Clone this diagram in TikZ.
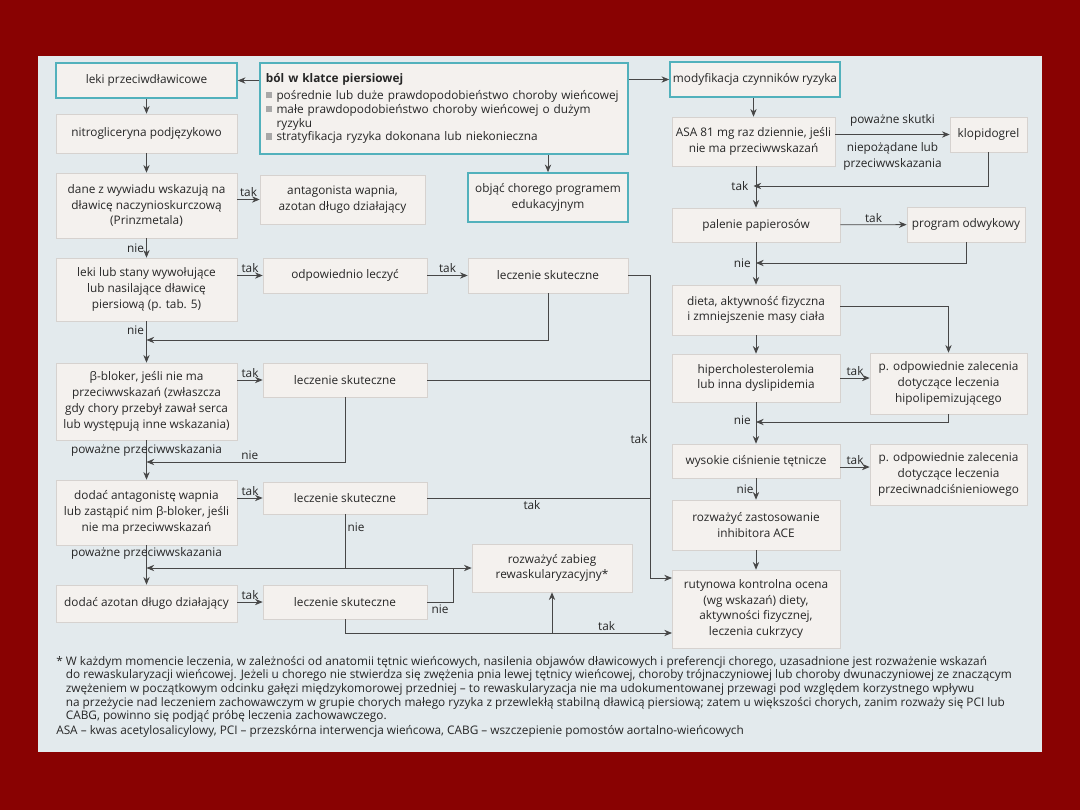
\documentclass[tikz,border=0pt]{standalone}
\usepackage{fontspec}
\setmainfont{Open Sans}
\usepackage{xcolor}
\usepackage{tikz}
\usetikzlibrary{arrows.meta,positioning,calc}
\definecolor{slide}{HTML}{890202}
\definecolor{panel}{HTML}{E3EAED}
\definecolor{boxfill}{HTML}{F4F1EE}
\definecolor{boxline}{HTML}{D6D2CF}
\definecolor{teal1}{HTML}{52B1BC}
\definecolor{ink}{HTML}{262626}
\definecolor{linec}{HTML}{474747}
\definecolor{bullet}{HTML}{A8A8A8}
\newcommand{\sq}{\textcolor{bullet}{\rule[0.2ex]{4.5pt}{4.5pt}}\hspace{3pt}}

\begin{document}
\begin{tikzpicture}[x=0.025cm,y=-0.025cm,
    txt/.style={font=\fontsize{8.4}{11.2}\selectfont,text=ink},
    box/.style={txt,draw=boxline,fill=boxfill,align=center,inner sep=2pt,line width=0.4pt},
    keybox/.style={box,draw=teal1,line width=1.1pt},
    lbl/.style={txt,inner sep=1.5pt},
    link/.style={linec,line width=0.6pt},
    arr/.style={link,-{Stealth[length=5.5pt,width=4.5pt]}}]
  \fill[slide] (0,0) rectangle (1080,810);
  \fill[panel] (38,56) rectangle (1042,752);

  \node[keybox,minimum width=4.525cm,minimum height=0.875cm] (lekiP) at (146.5,80.5) {leki przeciwdławicowe};
  \node[keybox,minimum width=9.2cm,minimum height=2.275cm,align=left,text width=8.9cm,inner xsep=0.15cm,
        font=\fontsize{8.4}{9.8}\selectfont] (bol) at (444,108.5)
       {\textbf{ból w klatce piersiowej}\\[2.5pt]
        \sq pośrednie lub duże prawdopodobieństwo choroby wieńcowej\\
        \sq małe prawdopodobieństwo choroby wieńcowej o dużym\\
        \hphantom{\sq}ryzyku\\
        \sq stratyfikacja ryzyka dokonana lub niekonieczna};
  \node[keybox,minimum width=4.25cm,minimum height=0.875cm] (modyf) at (755,79.5) {modyfikacja czynników ryzyka};
  \node[box,minimum width=4.525cm,minimum height=0.975cm] (nitro) at (146.5,133.5) {nitrogliceryna podjęzykowo};
  \node[box,minimum width=4.525cm,minimum height=1.625cm] (dane) at (146.5,205.5) {dane z wywiadu wskazują na\\dławicę naczynioskurczową\\(Prinzmetala)};
  \node[box,minimum width=4.125cm,minimum height=1.225cm] (antag) at (342.5,199.5) {antagonista wapnia,\\azotan długo działający};
  \node[keybox,minimum width=4cm,minimum height=1.225cm] (objac) at (548,197.5) {objąć chorego programem\\edukacyjnym};
  \node[box,minimum width=4.075cm,minimum height=1.225cm] (asa) at (753.5,141.5) {ASA 81 mg raz dziennie, jeśli\\nie ma przeciwwskazań};
  \node[box,minimum width=1.925cm,minimum height=0.875cm] (klop) at (988.5,134.5) {klopidogrel};
  \node[box,minimum width=4.2cm,minimum height=0.85cm] (palenie) at (756,225) {palenie papierosów};
  \node[box,minimum width=2.95cm,minimum height=0.875cm] (progr) at (966,224.5) {program odwykowy};
  \node[box,minimum width=4.525cm,minimum height=1.575cm] (lekiS) at (146.5,289.5) {leki lub stany wywołujące\\lub nasilające dławicę\\piersiową (p. tab. 5)};
  \node[box,minimum width=4.1cm,minimum height=0.875cm] (odpow) at (345,275.5) {odpowiednio leczyć};
  \node[box,minimum width=4cm,minimum height=0.875cm] (lsk1) at (548,275.5) {leczenie skuteczne};
  \node[box,minimum width=4.2cm,minimum height=1.25cm] (dieta) at (756,310) {dieta, aktywność fizyczna\\i zmniejszenie masy ciała};
  \node[box,minimum width=4.525cm,minimum height=1.925cm] (bbl) at (146.5,401.5) {β-bloker, jeśli nie ma\\przeciwwskazań (zwłaszcza\\gdy chory przebył zawał serca\\lub występują inne wskazania)};
  \node[box,minimum width=4.1cm,minimum height=0.85cm] (lsk2) at (345,380) {leczenie skuteczne};
  \node[box,minimum width=4.2cm,minimum height=1.2cm] (hiper) at (756,378) {hipercholesterolemia\\lub inna dyslipidemia};
  \node[box,minimum width=3.925cm,minimum height=1.525cm] (podp1) at (948.5,383.5) {p. odpowiednie zalecenia\\dotyczące leczenia\\hipolipemizującego};
  \node[box,minimum width=4.2cm,minimum height=0.85cm] (wysok) at (756,461) {wysokie ciśnienie tętnicze};
  \node[box,minimum width=3.925cm,minimum height=1.525cm] (podp2) at (948.5,474.5) {p. odpowiednie zalecenia\\dotyczące leczenia\\przeciwnadciśnieniowego};
  \node[box,minimum width=4.2cm,minimum height=1.25cm] (ace) at (756,525) {rozważyć zastosowanie\\inhibitora ACE};
  \node[box,minimum width=4.525cm,minimum height=1.625cm] (dodA) at (146.5,512.5) {dodać antagonistę wapnia\\lub zastąpić nim β-bloker, jeśli\\nie ma przeciwwskazań};
  \node[box,minimum width=4.1cm,minimum height=0.8cm] (lsk3) at (345,498) {leczenie skuteczne};
  \node[box,minimum width=4cm,minimum height=1.2cm] (rewask) at (552,568) {rozważyć zabieg\\rewaskularyzacyjny*};
  \node[box,minimum width=4.2cm,minimum height=1.95cm] (rutyn) at (756,609) {rutynowa kontrolna ocena\\(wg wskazań) diety,\\aktywności fizycznej,\\leczenia cukrzycy};
  \node[box,minimum width=4.525cm,minimum height=0.925cm] (dodAz) at (146.5,603.5) {dodać azotan długo działający};
  \node[box,minimum width=4.1cm,minimum height=0.85cm] (lsk4) at (345,602) {leczenie skuteczne};

  \coordinate (m1) at (146.5,340);
  \coordinate (m2) at (146.5,462);
  \coordinate (m3) at (146.5,568);
  \coordinate (m4) at (753.5,186);
  \coordinate (m5) at (756,263);
  \coordinate (m6) at (756,422);
  \coordinate (bus) at (650,578);
  \coordinate (j4) at (453,568);
  \coordinate (r1) at (672,578);
  \coordinate (r2) at (672,633);

  \draw[arr] (bol.west |- lekiP.east) -- (lekiP.east);
  \draw[arr] (bol.east |- modyf.west) -- (modyf.west);
  \draw[arr] (bol.south -| objac.north) -- (objac.north);
  \draw[arr] (lekiP) -- (nitro);
  \draw[arr] (nitro) -- (dane);
  \draw[arr] (dane.east |- antag.west) -- node[lbl,above] (t1) {tak} (antag.west);
  \draw[arr] (dane) -- node[lbl,left] (n1) {nie} (lekiS);
  \draw[arr] (lekiS.east |- odpow.west) -- node[lbl,above] (t2) {tak} (odpow.west);
  \draw[arr] (odpow) -- node[lbl,above] (t3) {tak} (lsk1);
  \draw[arr] (lekiS) -- node[lbl,left,pos=0.22] (n2) {nie} (bbl);
  \draw[arr] (lsk1.south) |- (m1);
  \draw[arr] (bbl.east |- lsk2.west) -- node[lbl,above] (t4) {tak} (lsk2.west);
  \draw[arr] (bbl) -- node[lbl,pos=0.25] (pp1) {poważne przeciwwskazania} (dodA);
  \draw[arr] (lsk2.south) |- node[lbl,above,pos=0.74] (n3) {nie} (m2);
  \draw[arr] (dodA.east |- lsk3.west) -- node[lbl,above] (t5) {tak} (lsk3.west);
  \draw[arr] (dodA) -- node[lbl,pos=0.2] (pp2) {poważne przeciwwskazania} (dodAz);
  \draw[arr] (lsk3.south) |- node[lbl,right,pos=0.12] (n4) {nie} (m3);
  \draw[arr] (lsk3.south |- m3) -- (rewask.west);
  \draw[link] (lsk4.east) -| node[lbl,below,pos=0.25] (n5) {nie} (j4);
  \draw[arr] (dodAz.east |- lsk4.west) -- node[lbl,above] (t6) {tak} (lsk4.west);
  \draw[arr] (lsk4.south) |- node[lbl,above,pos=0.9] (t7) {tak} (r2);
  \draw[arr] (rewask.south |- r2) -- (rewask.south);
  \draw[arr] (lsk1.east) -| node[lbl,left,pos=0.77] (t8) {tak} (bus) -- (r1);
  \draw[link] (lsk2.east) -- (lsk2.east -| bus);
  \draw[link] (lsk3.east) -- node[lbl,below,pos=0.47] (t9) {tak} (lsk3.east -| bus);

  \draw[arr] (modyf.south -| asa.north) -- (asa.north);
  \draw[arr] (asa.east |- klop.west) -- node[lbl,above=4pt] (sk) {poważne skutki}
       node[lbl,below=4pt,align=center] (np) {niepożądane lub\\przeciwwskazania} (klop.west);
  \draw[arr] (asa.south -| palenie.north) -- (palenie.north);
  \draw[arr] (klop.south) |- (m4);
  \node[lbl,left=2pt] (t10) at (m4) {tak};
  \draw[arr] (palenie) -- node[lbl,above] (t11) {tak} (progr);
  \draw[arr] (palenie) -- (dieta);
  \draw[arr] (progr.south) |- (m5);
  \node[lbl,left=2pt] (n6) at (m5) {nie};
  \draw[arr] (dieta) -- (hiper);
  \draw[arr] ([yshift=0.08cm]dieta.east) -| (podp1.north);
  \draw[arr] (hiper.east) -- node[lbl,above] (t12) {tak} (hiper.east -| podp1.west);
  \draw[arr] (hiper) -- (wysok);
  \draw[arr] (podp1.south) |- (m6);
  \node[lbl,left=2pt,yshift=0.05cm] (n7) at (m6) {nie};
  \draw[arr] ([yshift=-0.15cm]wysok.east) -- node[lbl,above] (t13) {tak} ([yshift=-0.15cm]wysok.east -| podp2.west);
  \draw[arr] (wysok) -- node[lbl,left] (n8) {nie} (ace);
  \draw[arr] (ace) -- (rutyn);

  \node[txt,font=\fontsize{8.4}{9.7}\selectfont,anchor=north west,align=left,inner sep=0pt] (note) at (56,656)
    {* W każdym momencie leczenia, w zależności od anatomii tętnic wieńcowych, nasilenia objawów dławicowych i preferencji chorego, uzasadnione jest rozważenie wskazań\\
     \hphantom{* }do rewaskularyzacji wieńcowej. Jeżeli u chorego nie stwierdza się zwężenia pnia lewej tętnicy wieńcowej, choroby trójnaczyniowej lub choroby dwunaczyniowej ze znaczącym\\
     \hphantom{* }zwężeniem w początkowym odcinku gałęzi międzykomorowej przedniej – to rewaskularyzacja nie ma udokumentowanej przewagi pod względem korzystnego wpływu\\
     \hphantom{* }na przeżycie nad leczeniem zachowawczym w grupie chorych małego ryzyka z przewlekłą stabilną dławicą piersiową; zatem u większości chorych, zanim rozważy się PCI lub\\
     \hphantom{* }CABG, powinno się podjąć próbę leczenia zachowawczego.\\[1pt]
     ASA – kwas acetylosalicylowy, PCI – przezskórna interwencja wieńcowa, CABG – wszczepienie pomostów aortalno-wieńcowych};
\end{tikzpicture}
\end{document}
